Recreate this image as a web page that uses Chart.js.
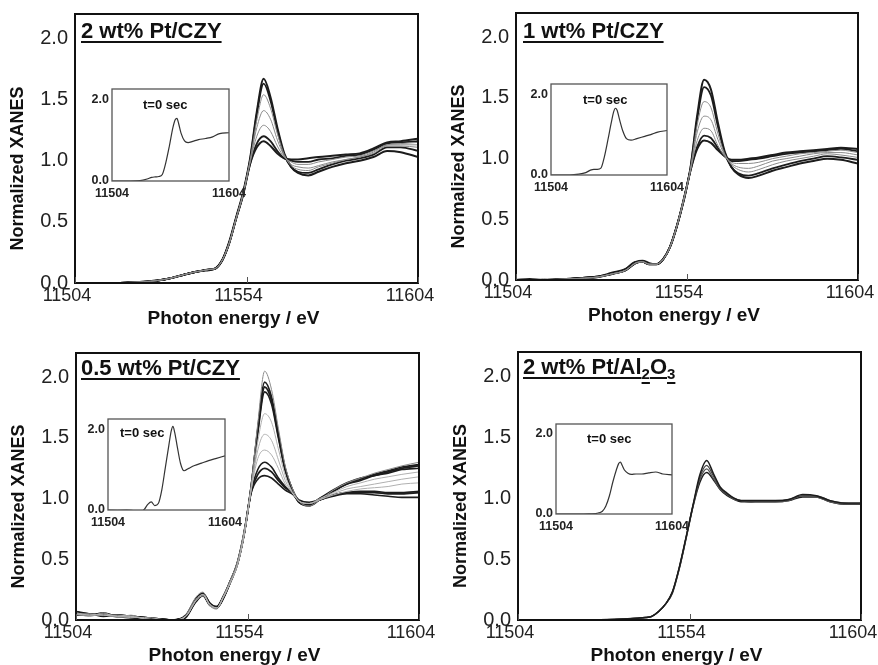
<!DOCTYPE html>
<html>
<head>
<meta charset="utf-8">
<script src="https://cdn.jsdelivr.net/npm/chart.js@4.4.1/dist/chart.umd.min.js"></script>
<style>
  html, body { margin: 0; padding: 0; background: #fff; }
  #wrap { position: relative; width: 878px; height: 665px; overflow: hidden; background: #fff; }
  #wrap canvas { position: absolute; left: 0; top: 0; }
</style>
</head>
<body>
<div id="wrap"></div>
<script>
// photon energy grid (eV) shared by the main panels
const energy = [11504, 11508, 11512, 11516, 11520, 11524, 11528, 11532, 11536, 11539, 11541, 11543, 11545, 11547, 11549, 11551, 11553,
  11555, 11557, 11559, 11561, 11563, 11565, 11567, 11569, 11572, 11575, 11579, 11583, 11587, 11591, 11595, 11599, 11604];
// energy grid of the t=0 insets
const insetEnergy = [11504, 11512, 11520, 11528, 11534, 11538, 11541, 11544, 11547, 11550, 11553, 11556, 11558, 11559.5,
  11561, 11563, 11566, 11569, 11573, 11578, 11584, 11590, 11596, 11604];

const xTickValues = [11504, 11554, 11604];
const yTickValues = [0, 0.5, 1.0, 1.5, 2.0];
const insetXTicks = [11504, 11604];
const insetYTicks = [0, 2.0];

// 2 wt% Pt/CZY
const czy2_a = [0.00,0.00,0.00,0.00,0.005,0.01,0.02,0.04,0.07,0.09,0.10,0.105,0.12,0.19,0.34,0.54,0.74, 1.01,1.40,1.67,1.52,1.27,1.06,0.95,0.90,0.88,0.91,0.95,0.98,1.00,1.03,1.08,1.07,1.03];
const czy2_b = [0.00,0.00,0.00,0.00,0.005,0.01,0.02,0.04,0.07,0.09,0.10,0.11,0.12,0.19,0.33,0.53,0.73, 1.00,1.38,1.63,1.49,1.25,1.05,0.95,0.91,0.90,0.93,0.97,1.00,1.02,1.05,1.11,1.11,1.08];
const czy2_c = [0.00,0.00,0.00,0.00,0.005,0.01,0.02,0.04,0.07,0.09,0.10,0.11,0.12,0.19,0.33,0.53,0.73, 0.99,1.33,1.54,1.43,1.22,1.05,0.96,0.93,0.92,0.95,0.98,1.01,1.03,1.06,1.12,1.12,1.11];
const czy2_d = [0.00,0.00,0.00,0.00,0.005,0.01,0.02,0.04,0.07,0.09,0.10,0.11,0.12,0.19,0.33,0.53,0.73, 0.99,1.27,1.41,1.34,1.17,1.04,0.97,0.95,0.94,0.96,0.99,1.01,1.03,1.07,1.13,1.13,1.13];
const czy2_e = [0.00,0.00,0.00,0.00,0.005,0.01,0.02,0.04,0.07,0.09,0.10,0.11,0.12,0.19,0.33,0.53,0.72, 0.98,1.20,1.29,1.24,1.12,1.03,0.99,0.97,0.97,0.99,1.01,1.03,1.04,1.08,1.13,1.14,1.15];
const czy2_f = [0.00,0.00,0.00,0.00,0.005,0.01,0.02,0.04,0.07,0.09,0.10,0.11,0.12,0.19,0.33,0.53,0.72, 0.97,1.14,1.20,1.16,1.08,1.02,1.00,0.99,0.99,1.01,1.02,1.04,1.05,1.09,1.14,1.15,1.16];
const czy2_g = [0.00,0.00,0.00,0.00,0.005,0.01,0.02,0.04,0.07,0.09,0.10,0.11,0.12,0.19,0.33,0.53,0.72, 0.97,1.11,1.16,1.12,1.06,1.02,1.01,1.01,1.02,1.03,1.04,1.05,1.06,1.10,1.15,1.16,1.18];
const czy2_t0 = [0.00,0.00,0.00,0.01,0.05,0.09,0.10,0.11,0.16,0.45,0.85,1.30,1.50,1.53,1.40,1.17,0.98,0.94,0.97,1.01,1.04,1.08,1.16,1.18];

// 1 wt% Pt/CZY
const czy1_a = [0.00,0.00,0.00,0.005,0.01,0.015,0.025,0.05,0.08,0.14,0.15,0.13,0.13,0.17,0.27,0.44,0.66, 0.92,1.36,1.65,1.57,1.30,1.06,0.93,0.87,0.84,0.86,0.90,0.93,0.96,0.98,1.00,0.99,0.96];
const czy1_b = [0.00,0.01,0.00,0.005,0.01,0.02,0.03,0.05,0.09,0.15,0.16,0.14,0.13,0.17,0.27,0.44,0.66, 0.92,1.33,1.59,1.52,1.27,1.05,0.93,0.88,0.86,0.88,0.92,0.95,0.98,1.00,1.02,1.01,0.99];
const czy1_c = [0.00,0.00,0.00,0.005,0.01,0.015,0.025,0.05,0.08,0.14,0.15,0.13,0.13,0.17,0.27,0.44,0.66, 0.91,1.28,1.47,1.42,1.21,1.04,0.95,0.91,0.89,0.91,0.95,0.98,1.00,1.02,1.04,1.03,1.01];
const czy1_d = [0.00,0.00,0.01,0.005,0.01,0.015,0.025,0.05,0.08,0.14,0.15,0.13,0.13,0.17,0.27,0.44,0.66, 0.91,1.22,1.35,1.32,1.16,1.03,0.96,0.93,0.92,0.94,0.98,1.00,1.02,1.04,1.05,1.05,1.03];
const czy1_e = [0.00,0.00,0.00,0.005,0.01,0.015,0.025,0.05,0.08,0.14,0.15,0.13,0.13,0.17,0.27,0.44,0.65, 0.90,1.15,1.25,1.23,1.11,1.02,0.97,0.96,0.96,0.97,1.00,1.02,1.04,1.05,1.06,1.07,1.05];
const czy1_f = [0.00,0.00,0.00,0.005,0.01,0.02,0.03,0.06,0.09,0.15,0.15,0.13,0.13,0.17,0.27,0.44,0.65, 0.90,1.10,1.19,1.17,1.09,1.02,0.98,0.98,0.99,1.00,1.02,1.04,1.05,1.06,1.07,1.08,1.06];
const czy1_g = [0.00,0.00,0.00,0.005,0.01,0.015,0.025,0.05,0.08,0.14,0.15,0.13,0.13,0.17,0.27,0.44,0.65, 0.90,1.08,1.15,1.13,1.07,1.02,0.99,0.99,1.00,1.01,1.03,1.05,1.06,1.07,1.08,1.09,1.08];
const czy1_t0 = [0.00,0.00,0.00,0.02,0.06,0.12,0.14,0.14,0.17,0.45,0.86,1.30,1.56,1.65,1.60,1.38,1.08,0.90,0.86,0.90,0.95,1.00,1.06,1.10];

// 0.5 wt% Pt/CZY
const czy05_a = [0.05,0.03,0.06,0.02,0.04,0.01,0.00,-0.01,0.04,0.19,0.23,0.12,0.09,0.20,0.33,0.48,0.74, 1.10,1.62,2.05,1.90,1.58,1.27,1.09,0.98,0.94,0.99,1.07,1.13,1.17,1.21,1.24,1.27,1.30];
const czy05_b = [0.07,0.05,0.04,0.04,0.03,0.02,0.01,0.00,0.03,0.17,0.22,0.14,0.10,0.19,0.32,0.47,0.72, 1.09,1.58,1.96,1.84,1.54,1.25,1.08,0.97,0.94,0.99,1.06,1.12,1.16,1.20,1.23,1.26,1.28];
const czy05_c = [0.06,0.04,0.05,0.03,0.02,0.02,0.00,-0.01,0.02,0.16,0.21,0.13,0.11,0.19,0.32,0.46,0.71, 1.08,1.56,1.92,1.81,1.52,1.24,1.08,0.98,0.95,1.00,1.07,1.13,1.17,1.19,1.22,1.25,1.27];
const czy05_d = [0.04,0.05,0.03,0.04,0.03,0.01,0.01,0.00,0.03,0.15,0.20,0.12,0.10,0.18,0.31,0.46,0.71, 1.08,1.54,1.88,1.78,1.50,1.23,1.07,0.97,0.95,1.00,1.06,1.12,1.15,1.19,1.21,1.24,1.25];
const czy05_e = [0.05,0.04,0.04,0.03,0.03,0.01,0.00,0.00,0.03,0.16,0.20,0.13,0.10,0.19,0.31,0.45,0.70, 1.07,1.47,1.70,1.63,1.41,1.19,1.06,0.98,0.96,1.00,1.05,1.10,1.13,1.16,1.18,1.20,1.22];
const czy05_f = [0.06,0.04,0.05,0.03,0.02,0.02,0.01,-0.01,0.03,0.16,0.21,0.13,0.10,0.19,0.31,0.45,0.70, 1.06,1.40,1.53,1.48,1.32,1.15,1.05,0.98,0.96,0.99,1.04,1.08,1.10,1.12,1.14,1.16,1.18];
const czy05_g = [0.05,0.05,0.04,0.04,0.03,0.01,0.00,0.00,0.03,0.17,0.21,0.12,0.10,0.19,0.31,0.45,0.70, 1.06,1.33,1.40,1.36,1.25,1.12,1.05,0.98,0.96,0.99,1.03,1.06,1.08,1.09,1.10,1.12,1.13];
const czy05_h = [0.07,0.04,0.05,0.03,0.03,0.02,0.01,0.00,0.04,0.18,0.22,0.14,0.11,0.20,0.32,0.46,0.71, 1.05,1.24,1.30,1.26,1.17,1.10,1.05,0.98,0.96,0.99,1.03,1.05,1.06,1.06,1.05,1.05,1.06];
const czy05_i = [0.06,0.05,0.04,0.04,0.02,0.01,0.00,-0.01,0.03,0.17,0.21,0.13,0.10,0.19,0.32,0.46,0.71, 1.05,1.20,1.25,1.22,1.15,1.09,1.05,0.98,0.96,0.99,1.03,1.05,1.05,1.05,1.04,1.04,1.05];
const czy05_j = [0.05,0.04,0.06,0.03,0.03,0.02,0.01,0.00,0.03,0.16,0.20,0.13,0.10,0.18,0.31,0.45,0.70, 1.04,1.16,1.19,1.17,1.12,1.07,1.04,0.99,0.97,0.99,1.02,1.04,1.04,1.03,1.02,1.01,1.01];
const czy05_t0 = [0.00,-0.01,0.00,-0.02,-0.01,0.14,0.20,0.11,0.16,0.50,1.05,1.60,1.95,2.07,1.92,1.60,1.15,0.97,1.03,1.10,1.16,1.22,1.27,1.34];

// 2 wt% Pt/Al2O3
const al2_a = [0,0,0,0,0,0,0.002,0.005,0.01,0.015,0.02,0.03,0.07,0.13,0.23,0.43,0.68, 0.94,1.19,1.31,1.20,1.09,1.04,1.00,0.98,0.98,0.98,0.98,0.99,1.03,1.02,0.98,0.96,0.96];
const al2_b = [0,0,0,0,0,0,0.002,0.005,0.01,0.015,0.02,0.03,0.07,0.13,0.23,0.43,0.68, 0.94,1.17,1.27,1.18,1.08,1.03,1.00,0.98,0.97,0.98,0.98,0.99,1.02,1.02,0.98,0.96,0.95];
const al2_c = [0,0,0,0,0,0,0.002,0.005,0.01,0.015,0.02,0.03,0.07,0.13,0.23,0.42,0.67, 0.93,1.15,1.24,1.16,1.07,1.03,0.99,0.98,0.97,0.97,0.97,0.98,1.02,1.01,0.97,0.95,0.95];
const al2_d = [0,0,0,0,0,0,0.002,0.005,0.01,0.015,0.02,0.03,0.07,0.13,0.22,0.42,0.67, 0.93,1.13,1.21,1.15,1.07,1.02,0.99,0.97,0.97,0.97,0.97,0.98,1.01,1.01,0.97,0.95,0.95];
const al2_t0 = [0.00,0.00,0.00,0.00,0.005,0.01,0.03,0.07,0.20,0.45,0.80,1.10,1.26,1.30,1.22,1.10,1.02,0.99,1.00,1.00,1.03,1.05,1.00,0.98];

const W = 878, H = 665;
Chart.defaults.font.family = "'Liberation Sans', Arial, Helvetica, sans-serif";

const DARK = '#1c1c1c', MID = '#8a8a8a', LIGHT = '#b0b0b0';

const panels = [
  {
    box: { l: 75, t: 14, r: 418, b: 283 },
    inset: { l: 112, t: 89, r: 229, b: 181 },
    label: [['2 wt% Pt/CZY', false]], labelDx: 6, labelDy: 24,
    series: [czy2_c, czy2_d, czy2_e, czy2_a, czy2_b, czy2_f, czy2_g],
    colors: [MID, MID, MID, DARK, DARK, DARK, DARK],
    widths: [1, 1, 1, 2, 1.8, 1.8, 2],
    t0: czy2_t0, t0Dx: 31, t0Dy: 20
  },
  {
    box: { l: 516, t: 13, r: 858, b: 280 },
    inset: { l: 551, t: 84, r: 667, b: 175 },
    label: [['1 wt% Pt/CZY', false]], labelDx: 7, labelDy: 25,
    series: [czy1_c, czy1_d, czy1_e, czy1_a, czy1_b, czy1_f, czy1_g],
    colors: [MID, MID, MID, DARK, DARK, DARK, DARK],
    widths: [1, 1, 1, 2, 1.8, 1.8, 2],
    t0: czy1_t0, t0Dx: 32, t0Dy: 20
  },
  {
    box: { l: 76, t: 353, r: 419, b: 620 },
    inset: { l: 108, t: 419, r: 225, b: 510 },
    label: [['0.5 wt% Pt/CZY', false]], labelDx: 5, labelDy: 22,
    series: [czy05_e, czy05_f, czy05_g, czy05_a, czy05_b, czy05_c, czy05_d, czy05_h, czy05_i, czy05_j],
    colors: [LIGHT, LIGHT, LIGHT, MID, DARK, DARK, DARK, DARK, DARK, DARK],
    widths: [1, 1, 1, 1, 1.6, 1.8, 1.6, 1.6, 1.8, 1.6],
    t0: czy05_t0, t0Dx: 12, t0Dy: 18
  },
  {
    box: { l: 518, t: 352, r: 861, b: 620 },
    inset: { l: 556, t: 424, r: 672, b: 514 },
    label: [['2 wt% Pt/Al', false], ['2', true], ['O', false], ['3', true]], labelDx: 5, labelDy: 22,
    series: [al2_a, al2_b, al2_c, al2_d],
    colors: [DARK, '#444', '#555', DARK],
    widths: [1.5, 1.2, 1.2, 1.5],
    t0: al2_t0, t0Dx: 31, t0Dy: 19
  }
];

function addCanvas() {
  const c = document.createElement('canvas');
  c.width = W; c.height = H;
  document.getElementById('wrap').appendChild(c);
  return c;
}

// keep the chart area exactly where the layout padding puts it
function noEdgePadding(s) {
  s.paddingTop = 0; s.paddingBottom = 0; s.paddingLeft = 0; s.paddingRight = 0;
}

// frame, inner ticks and free text of each panel
const decor = {
  id: 'decor',
  beforeDraw(chart, args, o) {
    if (!o.whiteArea) return;
    const a = chart.chartArea, ctx = chart.ctx;
    ctx.save();
    ctx.fillStyle = '#fff';
    ctx.fillRect(a.left, a.top, a.right - a.left, a.bottom - a.top);
    ctx.restore();
  },
  afterDraw(chart, args, o) {
    const a = chart.chartArea, ctx = chart.ctx;
    ctx.save();
    ctx.strokeStyle = o.frameColor;
    ctx.lineWidth = o.frameWidth;
    ctx.strokeRect(a.left, a.top, a.right - a.left, a.bottom - a.top);

    // small inward ticks on the energy axis
    if (o.innerTicks) {
      ctx.lineWidth = 1;
      ctx.strokeStyle = '#555';
      o.innerTicks.forEach(v => {
        const px = Math.round(chart.scales.x.getPixelForValue(v)) + 0.5;
        ctx.beginPath();
        ctx.moveTo(px, a.bottom);
        ctx.lineTo(px, a.bottom - 6);
        ctx.stroke();
      });
    }

    ctx.fillStyle = '#111';
    if (o.xTitle) {
      ctx.font = "bold 19px 'Liberation Sans', Arial, sans-serif";
      ctx.textAlign = 'center';
      ctx.textBaseline = 'alphabetic';
      ctx.fillText(o.xTitle, (a.left + a.right) / 2 - 13, a.bottom + 41);
    }
    if (o.yTitle) {
      ctx.save();
      ctx.translate(a.left - 57, (a.top + a.bottom) / 2 + 20);
      ctx.rotate(-Math.PI / 2);
      ctx.font = "bold 18px 'Liberation Sans', Arial, sans-serif";
      ctx.textAlign = 'center';
      ctx.textBaseline = 'middle';
      ctx.fillText(o.yTitle, 0, 0);
      ctx.restore();
    }

    // underlined sample name, with optional subscripts
    if (o.label) {
      let x = a.left + o.labelDx;
      const base = a.top + o.labelDy;
      ctx.textAlign = 'left';
      ctx.textBaseline = 'alphabetic';
      o.label.forEach(([txt, sub]) => {
        ctx.font = sub ? "bold 15px 'Liberation Sans', Arial, sans-serif" : "bold 22px 'Liberation Sans', Arial, sans-serif";
        const y = sub ? base + 5 : base;
        ctx.fillText(txt, x, y);
        const w = ctx.measureText(txt).width;
        ctx.fillRect(x, y + 3, w, 2);
        x += w;
      });
    }

    if (o.note) {
      ctx.font = "bold 13px 'Liberation Sans', Arial, sans-serif";
      ctx.textAlign = 'left';
      ctx.textBaseline = 'alphabetic';
      ctx.fillText(o.note, a.left + o.noteDx, a.top + o.noteDy);
    }
    ctx.restore();
  }
};

function mainChart(p) {
  const yW = 45, xH = 30;
  new Chart(addCanvas(), {
    type: 'line',
    data: {
      datasets: p.series.map((vals, i) => ({
        data: energy.map((e, k) => ({ x: e, y: vals[k] })),
        borderColor: p.colors[i],
        borderWidth: p.widths[i],
        pointRadius: 0,
        fill: false,
        cubicInterpolationMode: 'monotone'
      }))
    },
    options: {
      responsive: false,
      animation: false,
      devicePixelRatio: 1,
      layout: { padding: { left: p.box.l - yW, top: p.box.t, right: W - p.box.r, bottom: H - p.box.b - xH } },
      plugins: {
        legend: { display: false },
        tooltip: { enabled: false },
        decor: {
          frameColor: '#111', frameWidth: 2,
          innerTicks: xTickValues,
          xTitle: 'Photon energy / eV',
          yTitle: 'Normalized XANES',
          label: p.label, labelDx: p.labelDx, labelDy: p.labelDy
        }
      },
      scales: {
        x: {
          type: 'linear',
          min: xTickValues[0], max: xTickValues[xTickValues.length - 1],
          afterBuildTicks: s => { s.ticks = xTickValues.map(v => ({ value: v })); },
          afterFit: s => { s.height = xH; noEdgePadding(s); },
          grid: { display: false, drawTicks: false },
          border: { display: false },
          ticks: { font: { size: 18 }, color: '#222', padding: 2, labelOffset: -8, maxRotation: 0, autoSkip: false, callback: v => String(v) }
        },
        y: {
          type: 'linear',
          min: 0, max: 2.2,
          afterBuildTicks: s => { s.ticks = yTickValues.map(v => ({ value: v })); },
          afterFit: s => { s.width = yW; noEdgePadding(s); },
          grid: { display: false, drawTicks: false },
          border: { display: false },
          ticks: { font: { size: 20 }, color: '#222', padding: 7, callback: v => v.toFixed(1) }
        }
      }
    },
    plugins: [decor]
  });
}

function insetChart(p) {
  const yW = 30, xH = 22;
  const b = p.inset;
  new Chart(addCanvas(), {
    type: 'line',
    data: {
      datasets: [{
        data: insetEnergy.map((e, k) => ({ x: e, y: p.t0[k] })),
        borderColor: '#333',
        borderWidth: 1.2,
        pointRadius: 0,
        fill: false,
        cubicInterpolationMode: 'monotone'
      }]
    },
    options: {
      responsive: false,
      animation: false,
      devicePixelRatio: 1,
      layout: { padding: { left: b.l - yW, top: b.t, right: W - b.r, bottom: H - b.b - xH } },
      plugins: {
        legend: { display: false },
        tooltip: { enabled: false },
        decor: { whiteArea: true, frameColor: '#555', frameWidth: 1.3, note: 't=0 sec', noteDx: p.t0Dx, noteDy: p.t0Dy }
      },
      scales: {
        x: {
          type: 'linear',
          min: insetXTicks[0], max: insetXTicks[1],
          afterBuildTicks: s => { s.ticks = insetXTicks.map(v => ({ value: v })); },
          afterFit: s => { s.height = xH; noEdgePadding(s); },
          grid: { display: false, drawTicks: false },
          border: { display: false },
          ticks: { font: { size: 12.5, weight: 'bold' }, color: '#222', padding: 5, maxRotation: 0, autoSkip: false, callback: v => String(v) }
        },
        y: {
          type: 'linear',
          min: 0, max: 2.25,
          afterBuildTicks: s => { s.ticks = insetYTicks.map(v => ({ value: v })); },
          afterFit: s => { s.width = yW; noEdgePadding(s); },
          grid: { display: false, drawTicks: false },
          border: { display: false },
          ticks: { font: { size: 12.5, weight: 'bold' }, color: '#222', padding: 3, callback: v => v.toFixed(1) }
        }
      }
    },
    plugins: [decor]
  });
}

panels.forEach(mainChart);
panels.forEach(insetChart);
</script>
</body>
</html>
